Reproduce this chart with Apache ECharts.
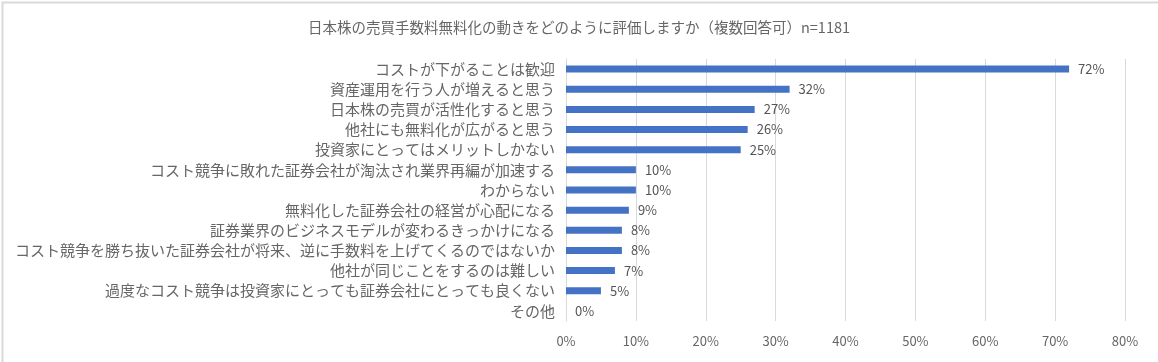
<!DOCTYPE html>
<html><head><meta charset="utf-8">
<script src="https://cdn.jsdelivr.net/npm/echarts@6/dist/echarts.min.js"></script>
<style>html,body{margin:0;padding:0;background:#fff}#c{width:1158px;height:362px}</style>
</head><body><div id="c"></div>
<script>
const titleText = '日本株の売買手数料無料化の動きをどのように評価しますか（複数回答可）n=1181';
const categories = [
  'コストが下がることは歓迎',
  '資産運用を行う人が増えると思う',
  '日本株の売買が活性化すると思う',
  '他社にも無料化が広がると思う',
  '投資家にとってはメリットしかない',
  'コスト競争に敗れた証券会社が淘汰され業界再編が加速する',
  'わからない',
  '無料化した証券会社の経営が心配になる',
  '証券業界のビジネスモデルが変わるきっかけになる',
  'コスト競争を勝ち抜いた証券会社が将来、逆に手数料を上げてくるのではないか',
  '他社が同じことをするのは難しい',
  '過度なコスト競争は投資家にとっても証券会社にとっても良くない',
  'その他'
];
const values = [72, 32, 27, 26, 25, 10, 10, 9, 8, 8, 7, 5, 0];
const xTicks = [0, 10, 20, 30, 40, 50, 60, 70, 80];

const font = '"Noto Sans CJK JP", "Noto Sans", sans-serif';
const chart = echarts.init(document.getElementById('c'), null, {renderer: 'canvas'});
chart.setOption({
  animation: false,
  backgroundColor: '#fff',
  title: {
    text: titleText, left: 'center', top: 15,
    textStyle: {fontFamily: font, fontSize: 14.5, fontWeight: 'normal', color: '#666666'}
  },
  graphic: [{
    type: 'rect', left: 0, top: 0, silent: true,
    shape: {x: 0, y: 0, width: 1157, height: 361},
    style: {fill: 'none', stroke: '#d9d9d9', lineWidth: 2}
  }],
  grid: {left: 566, right: 33, top: 59, bottom: 41, containLabel: false},
  xAxis: {
    type: 'value', min: xTicks[0], max: xTicks[xTicks.length - 1], interval: 10,
    axisLine: {show: false}, axisTick: {show: false},
    splitLine: {lineStyle: {color: '#d9d9d9', width: 1}},
    axisLabel: {formatter: '{value}%', margin: 14, fontFamily: font, fontSize: 13, color: '#666666'}
  },
  yAxis: {
    type: 'category', data: categories, inverse: true,
    axisLine: {show: true, lineStyle: {color: '#d9d9d9', width: 1}},
    axisTick: {show: false},
    axisLabel: {margin: 11, fontFamily: font, fontSize: 15, color: '#666666'}
  },
  series: [{
    type: 'bar', data: values, barWidth: 7,
    itemStyle: {color: '#4472C4'},
    label: {show: true, position: 'right', distance: 9, formatter: '{c}%',
      fontFamily: font, fontSize: 13, color: '#555555'}
  }]
});
</script></body></html>
